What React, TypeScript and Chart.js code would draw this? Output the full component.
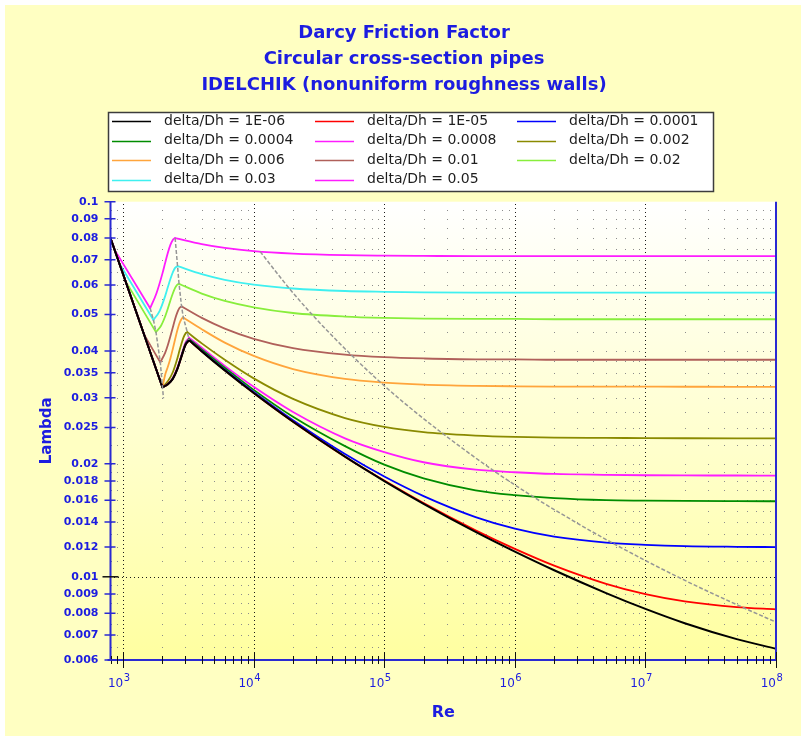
import React, { useEffect, useRef } from 'react';
import { Chart, registerables } from 'chart.js';

Chart.register(...registerables);

const W = 803;
const H = 738;
const FONT = "'DejaVu Sans', Verdana, sans-serif";
const BLUE = '#1c1ce0';
const AXIS_BLUE = '#2a2ad2';

// ---------- text ----------
const TITLE_LINES = ['Darcy Friction Factor', 'Circular cross-section pipes', 'IDELCHIK (nonuniform roughness walls)'];
const X_TITLE = 'Re';
const Y_TITLE = 'Lambda';
const LEGEND_LABELS = [
  'delta/Dh = 1E-06', 'delta/Dh = 1E-05', 'delta/Dh = 0.0001',
  'delta/Dh = 0.0004', 'delta/Dh = 0.0008', 'delta/Dh = 0.002',
  'delta/Dh = 0.006', 'delta/Dh = 0.01', 'delta/Dh = 0.02',
  'delta/Dh = 0.03', 'delta/Dh = 0.05',
];

// ---------- axes ----------
const RE_MIN = 800;
const RE_MAX = 1e8;
const LAMBDA_MIN = 0.006;
const LAMBDA_MAX = 0.1;
const X_DECADES = [1e3, 1e4, 1e5, 1e6, 1e7, 1e8];
const X_EXPONENTS = ['3', '4', '5', '6', '7', '8'];
const Y_TICK_LABELS = ['0.006', '0.007', '0.008', '0.009', '0.01', '0.012', '0.014', '0.016', '0.018', '0.02',
  '0.025', '0.03', '0.035', '0.04', '0.05', '0.06', '0.07', '0.08', '0.09', '0.1'];
const Y_TICKS = Y_TICK_LABELS.map(Number);
const Y_GRID_MINOR = [0.0065, 0.007, 0.0075, 0.008, 0.0085, 0.009, 0.0095,
  0.011, 0.012, 0.013, 0.014, 0.015, 0.016, 0.017, 0.018, 0.019, 0.02,
  0.0225, 0.025, 0.0275, 0.03, 0.0325, 0.035, 0.0375, 0.04, 0.045,
  0.05, 0.055, 0.06, 0.065, 0.07, 0.075, 0.08, 0.085, 0.09, 0.095];

// ---------- data (Re, lambda) ----------
// common Re values of the turbulent tails (each tail begins at its curve's peak)
const RE_TAIL = [4000, 6000, 1e4, 2e4, 5e4, 1e5, 2e5, 5e5, 1e6, 2e6, 5e6, 1e7, 2e7, 5e7, 1e8];

// near-smooth curves: laminar to Re=2000, transition peak near 3200
const RE_HEAD_SMOOTH = [800, 2000, 2200, 2400, 2600, 2800, 3000, 3200];
const L_HEAD_1E06 = [0.08, 0.032, 0.0326, 0.0337, 0.0358, 0.0387, 0.0415, 0.0427];
const L_TAIL_1E06 = [0.0399, 0.0355, 0.0309, 0.0259, 0.0209, 0.018, 0.01565, 0.01317, 0.01167, 0.01041, 0.00905, 0.00821, 0.00752, 0.00682, 0.00643];
const L_HEAD_1E05 = [0.08, 0.032, 0.0326, 0.0337, 0.0358, 0.0387, 0.0415, 0.0427];
const L_TAIL_1E05 = [0.0399, 0.0355, 0.0309, 0.0259, 0.0209, 0.01805, 0.01572, 0.0133, 0.01187, 0.01071, 0.00958, 0.00899, 0.0086, 0.0083, 0.00819];
const L_HEAD_1E04 = [0.08, 0.032, 0.0326, 0.0337, 0.0358, 0.0388, 0.0416, 0.0428];
const L_TAIL_1E04 = [0.04, 0.03565, 0.0311, 0.02615, 0.02124, 0.0185, 0.01641, 0.01443, 0.01344, 0.0128, 0.01234, 0.01217, 0.01207, 0.01202, 0.012];
const L_HEAD_4E04 = [0.08, 0.032, 0.0326, 0.0338, 0.0359, 0.0389, 0.0418, 0.043];
const L_TAIL_4E04 = [0.0404, 0.0361, 0.0315, 0.0267, 0.0223, 0.0199, 0.0183, 0.017, 0.0165, 0.0162, 0.016, 0.01596, 0.01593, 0.01591, 0.0159];
const L_HEAD_8E04 = [0.08, 0.032, 0.0327, 0.0339, 0.0361, 0.0391, 0.0421, 0.0434];
const L_TAIL_8E04 = [0.0408, 0.0365, 0.0321, 0.0275, 0.0234, 0.0215, 0.0202, 0.0193, 0.019, 0.0188, 0.0187, 0.01865, 0.01863, 0.01862, 0.0186];

const RE_HEAD_2E03 = [800, 2000, 2200, 2400, 2600, 2700, 2800, 2900, 3000, 3100];
const L_HEAD_2E03 = [0.08, 0.032, 0.0332, 0.0351, 0.0382, 0.0401, 0.0419, 0.0435, 0.0445, 0.0449];
const L_TAIL_2E03 = [0.0419, 0.0379, 0.0338, 0.0298, 0.0265, 0.0251, 0.0243, 0.0238, 0.0236, 0.0235, 0.02346, 0.02343, 0.02341, 0.0234, 0.0234];

const RE_HEAD_6E03 = [800, 2000, 2100, 2200, 2300, 2400, 2500, 2600, 2700, 2800, 2890];
const L_HEAD_6E03 = [0.08, 0.032, 0.0346, 0.0363, 0.0382, 0.0405, 0.043, 0.0454, 0.0474, 0.0487, 0.0491];
const L_TAIL_6E03 = [0.0457, 0.0421, 0.0388, 0.0358, 0.0337, 0.03295, 0.03254, 0.03229, 0.0322, 0.03215, 0.03213, 0.03212, 0.03211, 0.0321, 0.0321];

const RE_HEAD_1E02 = [800, 1444, 1925, 2100, 2200, 2300, 2400, 2500, 2600, 2700, 2800];
const L_HEAD_1E02 = [0.08, 0.0443, 0.0373, 0.0396, 0.0415, 0.0438, 0.0462, 0.0487, 0.0507, 0.0521, 0.0526];
const L_TAIL_1E02 = [0.049, 0.0459, 0.0431, 0.0407, 0.0391, 0.0385, 0.0382, 0.038, 0.038, 0.0379, 0.0379, 0.0379, 0.0379, 0.0379, 0.0379];

const RE_HEAD_2E02 = [800, 1043, 1784, 1950, 2100, 2200, 2300, 2400, 2500, 2600, 2680];
const L_HEAD_2E02 = [0.08, 0.0614, 0.0449, 0.0467, 0.0495, 0.0519, 0.0545, 0.0569, 0.0589, 0.0601, 0.0604];
const L_TAIL_2E02 = [0.0569, 0.0544, 0.0523, 0.0505, 0.0494, 0.049, 0.0488, 0.0487, 0.0487, 0.0486, 0.0486, 0.0486, 0.0486, 0.0486, 0.0486];

const RE_HEAD_3E02 = [800, 936, 1706, 1900, 2100, 2200, 2300, 2400, 2500, 2610];
const L_HEAD_3E02 = [0.08, 0.0684, 0.0484, 0.0511, 0.0561, 0.0592, 0.0622, 0.0648, 0.0666, 0.0673];
const L_TAIL_3E02 = [0.0641, 0.0619, 0.0601, 0.0587, 0.0578, 0.0575, 0.0573, 0.0572, 0.0572, 0.0572, 0.0572, 0.0572, 0.0572, 0.0572, 0.0572];

const RE_HEAD_5E02 = [800, 859, 1610, 1800, 2000, 2100, 2200, 2300, 2400, 2500];
const L_HEAD_5E02 = [0.08, 0.0745, 0.052, 0.057, 0.0644, 0.0688, 0.0731, 0.0767, 0.0791, 0.08];
const L_TAIL_5E02 = [0.0771, 0.0753, 0.0738, 0.0727, 0.072, 0.0718, 0.0717, 0.0716, 0.0716, 0.0716, 0.0716, 0.0716, 0.0716, 0.0716, 0.0716];

// grey dashed guide lines
const RE_MIN_LINE = [1610, 1706, 1784, 1925, 2036];
const L_MIN_LINE = [0.052, 0.0484, 0.0449, 0.0373, 0.0299];
const RE_PEAK_LINE = [2500, 2610, 2680, 2800, 2890, 3100, 3200];
const L_PEAK_LINE = [0.08, 0.0673, 0.0604, 0.0526, 0.0491, 0.0449, 0.0428];
const RE_LIMIT_LINE = [11200, 18667, 28000, 56000, 93333, 140000, 280000, 700000, 1.4e6, 2.8e6, 5.6e6, 1.867e7, 5.6e7, 1e8];
const L_LIMIT_LINE = [0.0736, 0.0588, 0.05, 0.039, 0.033, 0.0292, 0.0241, 0.0191, 0.0163, 0.0141, 0.0123, 0.0099, 0.00828, 0.00757];

// ---------- curve styling ----------
const COLORS = ['#000000', '#ff0000', '#0000ff', '#008c00', '#ff1cff', '#8a8a00', '#ffa53c', '#b0605a', '#88ee3c', '#3ff0f0', '#ff1cff'];
const CURVES = [
  { reHead: RE_HEAD_SMOOTH, lHead: L_HEAD_1E06, minIdx: 1, lTail: L_TAIL_1E06 },
  { reHead: RE_HEAD_SMOOTH, lHead: L_HEAD_1E05, minIdx: 1, lTail: L_TAIL_1E05 },
  { reHead: RE_HEAD_SMOOTH, lHead: L_HEAD_1E04, minIdx: 1, lTail: L_TAIL_1E04 },
  { reHead: RE_HEAD_SMOOTH, lHead: L_HEAD_4E04, minIdx: 1, lTail: L_TAIL_4E04 },
  { reHead: RE_HEAD_SMOOTH, lHead: L_HEAD_8E04, minIdx: 1, lTail: L_TAIL_8E04 },
  { reHead: RE_HEAD_2E03, lHead: L_HEAD_2E03, minIdx: 1, lTail: L_TAIL_2E03 },
  { reHead: RE_HEAD_6E03, lHead: L_HEAD_6E03, minIdx: 1, lTail: L_TAIL_6E03 },
  { reHead: RE_HEAD_1E02, lHead: L_HEAD_1E02, minIdx: 2, lTail: L_TAIL_1E02 },
  { reHead: RE_HEAD_2E02, lHead: L_HEAD_2E02, minIdx: 2, lTail: L_TAIL_2E02 },
  { reHead: RE_HEAD_3E02, lHead: L_HEAD_3E02, minIdx: 2, lTail: L_TAIL_3E02 },
  { reHead: RE_HEAD_5E02, lHead: L_HEAD_5E02, minIdx: 2, lTail: L_TAIL_5E02 },
];

const pts = (re: number[], l: number[]) => re.map((x, i) => ({ x, y: l[i] }));

function buildDatasets() {
  const ds: any[] = [];
  const guide = { borderColor: '#969696', borderWidth: 1.5, borderDash: [4, 2], pointRadius: 0, fill: false };
  ds.push({ ...guide, data: pts(RE_LIMIT_LINE, L_LIMIT_LINE), cubicInterpolationMode: 'monotone' });
  ds.push({ ...guide, data: pts(RE_MIN_LINE, L_MIN_LINE), tension: 0 });
  ds.push({ ...guide, data: pts(RE_PEAK_LINE, L_PEAK_LINE), tension: 0 });
  CURVES.forEach((c, k) => {
    const style = { borderColor: COLORS[k], borderWidth: k === 0 ? 2 : 1.8, pointRadius: 0, fill: false, borderJoinStyle: 'round', borderCapStyle: 'round' };
    const n = c.reHead.length;
    ds.push({ ...style, tension: 0, data: pts(c.reHead.slice(0, c.minIdx + 1), c.lHead.slice(0, c.minIdx + 1)) });
    ds.push({ ...style, cubicInterpolationMode: 'monotone', data: pts(c.reHead.slice(c.minIdx), c.lHead.slice(c.minIdx)) });
    ds.push({ ...style, cubicInterpolationMode: 'monotone', data: [{ x: c.reHead[n - 1], y: c.lHead[n - 1] }, ...pts(RE_TAIL, c.lTail)] });
  });
  return ds;
}

function minorX(): number[] {
  const v = [800, 900];
  for (let d = 3; d <= 7; d++) for (let m = 2; m <= 9; m++) v.push(m * Math.pow(10, d));
  return v;
}

const decor = {
  id: 'decor',
  beforeDraw(chart: any) {
    const { ctx, chartArea: a } = chart;
    ctx.save();
    ctx.fillStyle = '#ffffff';
    ctx.fillRect(0, 0, chart.width, chart.height);
    ctx.fillStyle = '#ffffc2';
    ctx.fillRect(5, 5, chart.width - 7, chart.height - 7);
    const g = ctx.createLinearGradient(0, a.top, 0, a.bottom);
    g.addColorStop(0, '#ffffff');
    g.addColorStop(1, '#ffffa0');
    ctx.fillStyle = g;
    ctx.fillRect(a.left, a.top, a.right - a.left, a.bottom - a.top);
    ctx.restore();
  },
  beforeDatasetsDraw(chart: any) {
    const { ctx, chartArea: a, scales } = chart;
    const xs = scales.x, ys = scales.y;
    ctx.save();
    // minor dot lattice
    ctx.fillStyle = '#8c8c8c';
    const mx = minorX().map((v) => Math.round(xs.getPixelForValue(v)));
    const my = Y_GRID_MINOR.map((v) => Math.round(ys.getPixelForValue(v)));
    for (const px of mx) for (const py of my) ctx.fillRect(px, py, 1, 1);
    // major dotted lines
    ctx.fillStyle = '#1a1a1a';
    for (const v of X_DECADES.slice(0, 5)) {
      const px = Math.round(xs.getPixelForValue(v));
      for (let y = a.top + 2; y < a.bottom; y += 4) ctx.fillRect(px, Math.round(y), 1, 1);
    }
    const p01 = Math.round(ys.getPixelForValue(0.01));
    for (let x = a.left + 3; x < a.right; x += 4) ctx.fillRect(Math.round(x), p01, 1, 1);
    ctx.restore();
  },
  afterDatasetsDraw(chart: any) {
    const { ctx, chartArea: a, scales } = chart;
    const xs = scales.x, ys = scales.y;
    ctx.save();
    // axis lines
    ctx.strokeStyle = AXIS_BLUE;
    ctx.lineWidth = 2;
    ctx.beginPath();
    ctx.moveTo(a.left, a.top);
    ctx.lineTo(a.left, a.bottom);
    ctx.moveTo(a.left - 3, a.bottom);
    ctx.lineTo(a.right, a.bottom);
    ctx.moveTo(a.right, a.top);
    ctx.lineTo(a.right, a.bottom);
    ctx.stroke();
    // x ticks
    ctx.strokeStyle = '#111111';
    ctx.lineWidth = 1;
    ctx.beginPath();
    for (const v of minorX()) {
      const px = Math.round(xs.getPixelForValue(v)) + 0.5;
      ctx.moveTo(px, a.bottom - 4);
      ctx.lineTo(px, a.bottom + 4);
    }
    for (const v of X_DECADES) {
      const px = Math.round(xs.getPixelForValue(v)) + 0.5;
      ctx.moveTo(px, a.bottom - 8);
      ctx.lineTo(px, a.bottom + 8);
    }
    ctx.stroke();
    // y ticks
    ctx.strokeStyle = AXIS_BLUE;
    ctx.lineWidth = 1.5;
    ctx.beginPath();
    for (const v of Y_TICKS) {
      if (v === 0.01) continue;
      const py = ys.getPixelForValue(v);
      ctx.moveTo(a.left - 6, py);
      ctx.lineTo(a.left + 5, py);
    }
    ctx.stroke();
    ctx.strokeStyle = '#111111';
    ctx.beginPath();
    const p01 = ys.getPixelForValue(0.01);
    ctx.moveTo(a.left - 8, p01);
    ctx.lineTo(a.left + 8, p01);
    ctx.stroke();
    // exponents of the x labels
    ctx.fillStyle = BLUE;
    ctx.font = `10px ${FONT}`;
    ctx.textAlign = 'left';
    ctx.textBaseline = 'middle';
    X_DECADES.forEach((v, i) => {
      const px = xs.getPixelForValue(v);
      ctx.fillText(X_EXPONENTS[i], px + 0.5, a.bottom + 18);
    });
    ctx.restore();
  },
  afterDraw(chart: any) {
    const { ctx } = chart;
    const box = { left: 108, top: 112, right: 713, bottom: 191 };
    const colX = [112, 315, 517];
    const rowY = [121, 140.5, 160, 179.5];
    ctx.save();
    ctx.fillStyle = '#ffffff';
    ctx.fillRect(box.left, box.top, box.right - box.left, box.bottom - box.top);
    ctx.strokeStyle = '#3c3c3c';
    ctx.lineWidth = 1.5;
    ctx.strokeRect(box.left + 0.5, box.top + 0.5, box.right - box.left, box.bottom - box.top);
    ctx.font = `14px ${FONT}`;
    ctx.textAlign = 'left';
    ctx.textBaseline = 'middle';
    LEGEND_LABELS.forEach((lab, i) => {
      const c = i % 3, r = Math.floor(i / 3);
      const x0 = colX[c], y0 = rowY[r];
      ctx.strokeStyle = COLORS[i];
      ctx.lineWidth = 1.5;
      ctx.beginPath();
      ctx.moveTo(x0, Math.round(y0) + 0.5);
      ctx.lineTo(x0 + 39, Math.round(y0) + 0.5);
      ctx.stroke();
      ctx.fillStyle = '#1e1e1e';
      ctx.fillText(lab, x0 + 52, y0);
    });
    ctx.restore();
  },
};

export default function App() {
  const ref = useRef<HTMLCanvasElement>(null);
  useEffect(() => {
    const canvas = ref.current;
    if (!canvas) return;
    const chart = new Chart(canvas, {
      type: 'line',
      data: { datasets: buildDatasets() },
      plugins: [decor],
      options: {
        animation: false,
        responsive: false,
        devicePixelRatio: 1,
        events: [],
        layout: { padding: { left: 5, right: 0, top: 0, bottom: 0 } },
        plugins: {
          legend: { display: false },
          tooltip: { enabled: false },
          title: {
            display: true,
            text: TITLE_LINES,
            color: BLUE,
            font: { family: FONT, size: 18, weight: 'bold', lineHeight: 26 / 18 },
            padding: { top: 20, bottom: 103.7 },
          },
        },
        scales: {
          x: {
            type: 'logarithmic',
            min: RE_MIN,
            max: RE_MAX,
            afterBuildTicks: (s: any) => { s.ticks = X_DECADES.map((value) => ({ value })); },
            afterFit: (s: any) => { s.height = 78; },
            grid: { display: false, drawTicks: false },
            border: { display: false },
            ticks: {
              autoSkip: false,
              maxRotation: 0,
              align: 'end',
              padding: 17,
              color: BLUE,
              font: { family: FONT, size: 12 },
              callback: () => '10',
            },
            title: { display: true, text: X_TITLE, color: BLUE, font: { family: FONT, size: 16, weight: 'bold' }, padding: { top: 0, bottom: 16 } },
          },
          y: {
            type: 'logarithmic',
            min: LAMBDA_MIN,
            max: LAMBDA_MAX,
            afterBuildTicks: (s: any) => { s.ticks = Y_TICKS.map((value) => ({ value })); },
            afterFit: (s: any) => { s.width = 105.5; },
            grid: { display: false, drawTicks: false },
            border: { display: false },
            ticks: {
              autoSkip: false,
              padding: 12,
              color: BLUE,
              font: { family: FONT, size: 11, weight: 'bold' },
              callback: (_v: any, i: number) => Y_TICK_LABELS[i],
            },
            title: { display: true, text: Y_TITLE, color: BLUE, font: { family: FONT, size: 15, weight: 'bold' }, padding: { top: 33, bottom: 0 } },
          },
          y2: {
            type: 'linear',
            position: 'right',
            display: true,
            grid: { display: false, drawTicks: false },
            border: { display: false },
            ticks: { display: false },
            afterFit: (s: any) => { s.width = 27; },
          },
        },
      } as any,
    });
    return () => chart.destroy();
  }, []);
  return (
    <div style={{ position: 'absolute', left: 0, top: 0, width: W, height: H }}>
      <canvas ref={ref} width={W} height={H} style={{ display: 'block' }} />
    </div>
  );
}
